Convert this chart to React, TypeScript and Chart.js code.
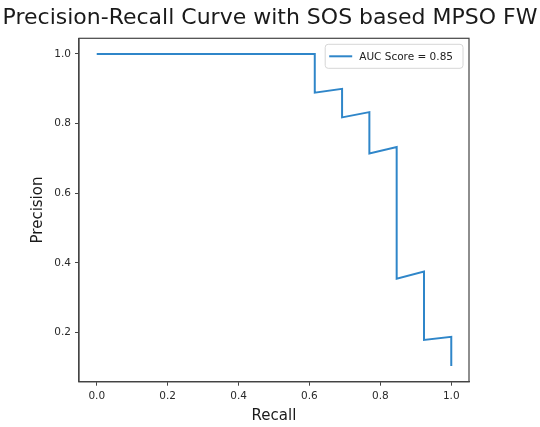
import React, { useEffect, useRef } from "react";
import { Chart, registerables } from "chart.js";

Chart.register(...registerables);

const TITLE = "Precision-Recall Curve with SOS based MPSO FW";
const LEGEND_LABEL = "AUC Score = 0.85";
const recall = [0, 0.615, 0.615, 0.692, 0.692, 0.769, 0.769, 0.846, 0.846, 0.923, 0.923, 1.0, 1.0];
const precision = [1.0, 1.0, 0.889, 0.9, 0.818, 0.833, 0.714, 0.733, 0.355, 0.375, 0.179, 0.188, 0.104];
const xTicks = [0, 0.2, 0.4, 0.6, 0.8, 1.0];
const yTicks = [0.2, 0.4, 0.6, 0.8, 1.0];

const FONT = "'DejaVu Sans', sans-serif";
const LINE_COLOR = "#2f86c9";
const AXIS_COLOR = "#444";

const boxPlugin = {
  id: "boxAndLegend",
  afterDraw(chart: any) {
    const { ctx, chartArea } = chart;
    ctx.save();
    ctx.strokeStyle = AXIS_COLOR;
    ctx.lineWidth = 1.2;
    ctx.strokeRect(chartArea.left, chartArea.top, chartArea.right - chartArea.left, chartArea.bottom - chartArea.top);

    // title across the whole figure width
    ctx.font = `22px ${FONT}`;
    ctx.fillStyle = "#1a1a1a";
    ctx.textAlign = "center";
    ctx.textBaseline = "middle";
    ctx.fillText(TITLE, chart.width / 2, 18);

    // legend box (upper right, inside axes)
    const ds = chart.data.datasets[0];
    ctx.font = `10.5px ${FONT}`;
    const tw = ctx.measureText(ds.label).width;
    const bw = tw + 44;
    const bh = 24;
    const bx = chartArea.right - 6 - bw;
    const by = chartArea.top + 6;
    const r = 3;
    ctx.beginPath();
    ctx.moveTo(bx + r, by);
    ctx.lineTo(bx + bw - r, by);
    ctx.quadraticCurveTo(bx + bw, by, bx + bw, by + r);
    ctx.lineTo(bx + bw, by + bh - r);
    ctx.quadraticCurveTo(bx + bw, by + bh, bx + bw - r, by + bh);
    ctx.lineTo(bx + r, by + bh);
    ctx.quadraticCurveTo(bx, by + bh, bx, by + bh - r);
    ctx.lineTo(bx, by + r);
    ctx.quadraticCurveTo(bx, by, bx + r, by);
    ctx.closePath();
    ctx.fillStyle = "rgba(255,255,255,0.85)";
    ctx.fill();
    ctx.strokeStyle = "#d6d6d6";
    ctx.lineWidth = 1;
    ctx.stroke();
    ctx.strokeStyle = LINE_COLOR;
    ctx.lineWidth = 2;
    ctx.beginPath();
    ctx.moveTo(bx + 4, by + bh / 2);
    ctx.lineTo(bx + 27, by + bh / 2);
    ctx.stroke();
    ctx.fillStyle = "#222";
    ctx.textBaseline = "middle";
    ctx.textAlign = "left";
    ctx.fillText(ds.label, bx + 34, by + bh / 2 + 0.5);
    ctx.restore();
  },
};

export default function App() {
  const ref = useRef<HTMLCanvasElement | null>(null);
  useEffect(() => {
    if (!ref.current) return;
    const points = recall.map((r, i) => ({ x: r, y: precision[i] }));
    const chart = new Chart(ref.current, {
      type: "line",
      data: {
        datasets: [
          {
            label: LEGEND_LABEL,
            data: points,
            borderColor: LINE_COLOR,
            backgroundColor: LINE_COLOR,
            borderWidth: 2,
            pointRadius: 0,
            tension: 0,
            fill: false,
          },
        ],
      },
      options: {
        animation: false,
        responsive: false,
        devicePixelRatio: 1,
        layout: { padding: { left: 0, right: 71, top: 38.3, bottom: 0 } },
        plugins: {
          legend: { display: false },
          tooltip: { enabled: false },
          title: { display: false },
        },
        scales: {
          x: {
            type: "linear",
            min: -0.05,
            max: 1.05,
            afterBuildTicks: (s: any) => {
              s.ticks = xTicks.map((v) => ({ value: v }));
            },
            afterFit: (s: any) => {
              s.height = 45.3;
            },
            grid: { drawOnChartArea: false, drawTicks: true, tickLength: 4, color: AXIS_COLOR },
            border: { display: true, color: AXIS_COLOR, width: 1.2 },
            ticks: {
              color: "#2a2a2a",
              padding: 4,
              maxRotation: 0,
              font: { family: FONT, size: 10.5 },
              callback: (v: any) => Number(v).toFixed(1),
            },
            title: {
              display: true,
              text: "Recall",
              color: "#1a1a1a",
              font: { family: FONT, size: 15 },
              padding: { top: 0, bottom: 2 },
            },
          },
          y: {
            type: "linear",
            min: 0.059,
            max: 1.045,
            afterBuildTicks: (s: any) => {
              s.ticks = yTicks.map((v) => ({ value: v }));
            },
            afterFit: (s: any) => {
              s.width = 79;
            },
            grid: { drawOnChartArea: false, drawTicks: true, tickLength: 4, color: AXIS_COLOR },
            border: { display: true, color: AXIS_COLOR, width: 1.2 },
            ticks: {
              color: "#2a2a2a",
              padding: 4,
              font: { family: FONT, size: 10.5 },
              callback: (v: any) => Number(v).toFixed(1),
            },
            title: {
              display: true,
              text: "Precision",
              color: "#1a1a1a",
              font: { family: FONT, size: 15 },
              padding: { top: 29, bottom: 0 },
            },
          },
        },
      },
      plugins: [boxPlugin],
    });
    return () => chart.destroy();
  }, []);
  return (
    <div style={{ position: "fixed", left: 0, top: 0, width: 540, height: 427, background: "#fff" }}>
      <canvas ref={ref} width={540} height={427} style={{ display: "block", width: 540, height: 427 }} />
    </div>
  );
}
